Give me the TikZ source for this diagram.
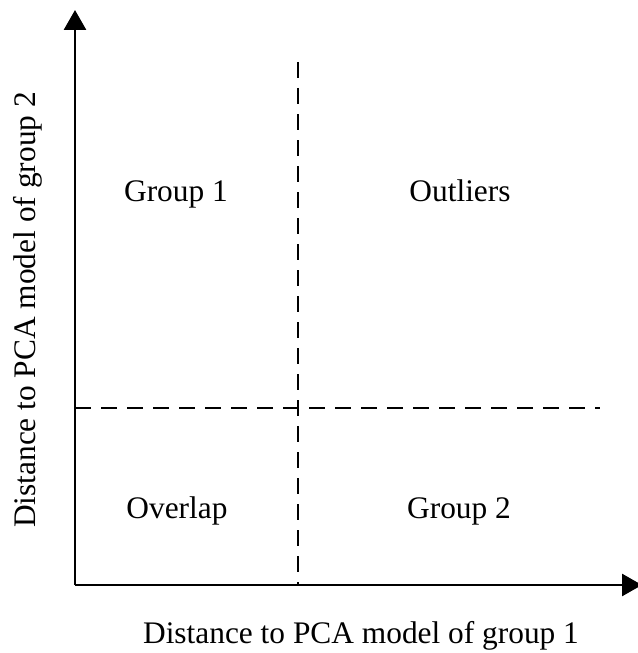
\documentclass[tikz,border=0pt]{standalone}
\usepackage{fontspec}
\setmainfont{Liberation Serif}
\usetikzlibrary{arrows.meta}
\begin{document}
\begin{tikzpicture}[x=1bp,y=-1bp,
  axis/.style={line width=2.8bp,-{Triangle[length=20bp,width=22bp]}},
  divider/.style={line width=2.5bp,dash pattern=on 16bp off 10bp},
  lbl/.style={font=\fontsize{31.5}{36}\selectfont,inner sep=0pt,anchor=base}]
\useasboundingbox (0,0) rectangle (638,653);
\coordinate (o) at (75,585);
\coordinate (ytop) at (75,10);
\coordinate (xend) at (642,585);
\coordinate (vtop) at (298,62);
\coordinate (vbot) at (298,585);
\coordinate (hl) at (75,408);
\coordinate (hr) at (600,408);
% quadrant dividers
\draw[divider] (vtop) -- (vbot);
\draw[divider] (hl) -- (hr);
% axes
\draw[axis] (o) -- (ytop);
\draw[axis] (o) -- (xend);
% quadrant labels
\node[lbl] (g1) at (176,201) {Group 1};
\node[lbl] (out) at (460,201) {Outliers};
\node[lbl] (ov) at (177,518) {Overlap};
\node[lbl] (g2) at (459,518) {Group 2};
% axis titles
\node[lbl] (xl) at (361,643) {Distance to PCA model of group 1};
\node[lbl,rotate=90] (yl) at (35,310) {Distance to PCA model of group 2};
\end{tikzpicture}
\end{document}
